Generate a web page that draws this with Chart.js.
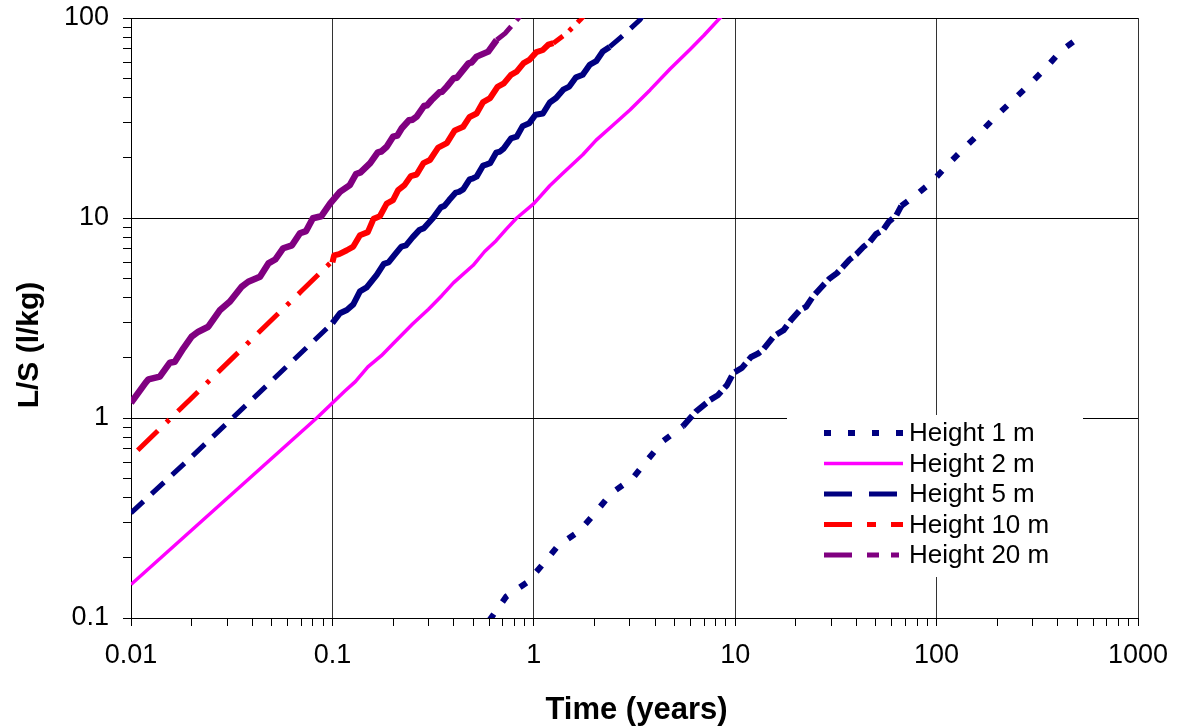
<!DOCTYPE html>
<html>
<head>
<meta charset="utf-8">
<script src="https://cdn.jsdelivr.net/npm/chart.js@4/dist/chart.umd.min.js"></script>
<style>
  html, body { margin: 0; padding: 0; background: #fff; }
  #wrap { width: 1178px; height: 726px; position: relative; }
</style>
</head>
<body>
<div id="wrap"><canvas id="chart-ls"></canvas></div>
<script>
// axis ticks (log decades)
const xMajors = [0.01, 0.1, 1, 10, 100, 1000];
const xTickLabels = ["0.01", "0.1", "1", "10", "100", "1000"];
const yMajors = [0.1, 1, 10, 100];
const yTickLabels = ["0.1", "1", "10", "100"];

const seriesLabels = ["Height 1 m", "Height 2 m", "Height 5 m", "Height 10 m", "Height 20 m"];
const xTitle = "Time (years)";
const yTitle = "L/S (l/kg)";

// [time (years), L/S (l/kg)]
// Height 1 m: sparse start, dense middle, sparse end
const h1Low = [[0.6, 0.097], [0.73, 0.128], [0.93, 0.151], [1.12, 0.188], [1.32, 0.23], [1.69, 0.273],
  [2.04, 0.34], [2.42, 0.42], [3.1, 0.5], [3.68, 0.62], [4.4, 0.77], [5.5, 0.91]];
const h1Mid = [[5.5, 0.91], [6.4, 1.08], [7.5, 1.23], [8.2, 1.3], [9.1, 1.46], [9.8, 1.68], [10.8, 1.78],
  [12.0, 2.02], [13.0, 2.1], [13.7, 2.19], [15.6, 2.57], [17.4, 2.75], [19.0, 3.1], [21.0, 3.47],
  [22.5, 3.6], [24.3, 4.05], [27.0, 4.55], [29.4, 4.98], [32.0, 5.3], [34.3, 5.7], [37.0, 6.2],
  [40.0, 6.6], [43.5, 7.2], [46.6, 7.6], [50.0, 8.3], [54.2, 8.7], [58.0, 9.6], [61.0, 10.0],
  [63.0, 10.3], [66.8, 11.5]];
const h1High = [[66.8, 11.5], [78.7, 13.0], [95, 15.2], [115, 18.7], [139, 22.7], [165, 26.8],
  [198, 32.4], [240, 38.9], [290, 46.7], [350, 56.6], [415, 68.6], [515, 80.4], [540, 83.5]];

// Height 2 m
const h2Line = [[0.01, 0.147], [0.0836, 1.0], [0.1, 1.19], [0.115, 1.36], [0.13, 1.52], [0.15, 1.8],
  [0.175, 2.05], [0.2, 2.35], [0.25, 2.95], [0.3, 3.5], [0.35, 4.1], [0.4, 4.75], [0.5, 5.8],
  [0.57, 6.8], [0.65, 7.7], [0.73, 8.8], [0.82, 9.97], [1.0, 11.8], [1.2, 14.5], [1.39, 16.7],
  [1.75, 20.7], [2.04, 24.5], [2.47, 29.1], [3.0, 34.7], [3.78, 43.7], [4.76, 55.7], [6.0, 70],
  [7.0, 82], [8.4, 100], [8.6, 102]];

// Height 5 m
const h5Head = [[0.01, 0.335], [0.02, 0.64], [0.04, 1.24], [0.07, 2.12], [0.1, 2.98]];
const h5Body = [[0.1, 2.98], [0.103, 3.1], [0.109, 3.34], [0.118, 3.47], [0.127, 3.7], [0.137, 4.3],
  [0.148, 4.5], [0.166, 5.2], [0.18, 5.9], [0.19, 6.0], [0.205, 6.6], [0.22, 7.2], [0.232, 7.3],
  [0.25, 8.0], [0.27, 8.7], [0.285, 8.9], [0.316, 10.0], [0.345, 11.3], [0.36, 11.5], [0.38, 12.3],
  [0.41, 13.4], [0.425, 13.5], [0.446, 13.9], [0.48, 15.6], [0.5, 15.8], [0.52, 16.1], [0.56, 18.3],
  [0.58, 18.5], [0.607, 18.8], [0.65, 21.2], [0.68, 21.5], [0.71, 22.3], [0.77, 25.0], [0.822, 25.5],
  [0.88, 28.8], [0.95, 29.8], [1.02, 32.8], [1.11, 33.3], [1.2, 37.8], [1.29, 39.8], [1.4, 43.8],
  [1.5, 45.4], [1.62, 50.5], [1.75, 52], [1.9, 58.5], [2.04, 60.8], [2.2, 68], [2.38, 71.7]];
const h5Tail = [[2.38, 71.7], [2.78, 82], [3.37, 98], [3.45, 102]];

// Height 10 m
const h10Head = [[0.0108, 0.69], [0.02, 1.26], [0.04, 2.49], [0.07, 4.3], [0.1, 6.1]];
const h10Body = [[0.1, 6.0], [0.102, 6.5], [0.108, 6.6], [0.118, 6.9], [0.127, 7.2], [0.137, 8.2],
  [0.15, 8.5], [0.16, 9.9], [0.172, 10.2], [0.186, 11.8], [0.2, 12.3], [0.212, 13.8], [0.228, 14.6],
  [0.245, 16.2], [0.262, 16.5], [0.283, 18.8], [0.305, 19.5], [0.335, 22.5], [0.37, 23.7],
  [0.405, 27.4], [0.446, 28.6], [0.48, 32.0], [0.52, 33.3], [0.56, 38.0], [0.607, 39.8], [0.66, 45.2],
  [0.71, 47.1], [0.77, 52.0], [0.822, 53.9], [0.89, 59.5], [0.95, 61.7], [1.03, 67.5], [1.11, 69.2],
  [1.18, 73.5], [1.25, 74.8]];
const h10Tail = [[1.25, 74.8], [1.46, 84], [1.7, 98], [1.78, 103]];

// Height 20 m
const h20Body = [[0.01, 1.19], [0.011, 1.36], [0.0118, 1.5], [0.0122, 1.56], [0.0139, 1.61],
  [0.0156, 1.89], [0.0165, 1.91], [0.0182, 2.23], [0.02, 2.55], [0.0216, 2.7], [0.0242, 2.86],
  [0.0277, 3.47], [0.031, 3.82], [0.0355, 4.54], [0.0382, 4.8], [0.0437, 5.09], [0.0481, 5.93],
  [0.052, 6.2], [0.057, 7.06], [0.063, 7.3], [0.069, 8.39], [0.074, 8.6], [0.08, 9.97], [0.088, 10.2],
  [0.0973, 11.8], [0.109, 13.5], [0.122, 14.6], [0.131, 16.6], [0.138, 16.9], [0.154, 18.8],
  [0.168, 21.3], [0.175, 21.5], [0.186, 22.7], [0.2, 25.5], [0.21, 25.8], [0.221, 28.1], [0.24, 30.8],
  [0.25, 31.0], [0.262, 32.1], [0.285, 36.3], [0.295, 36.6], [0.311, 38.9], [0.34, 42.5], [0.35, 42.7],
  [0.37, 45.4], [0.4, 50.0], [0.415, 50.3], [0.439, 53.9], [0.475, 59.5], [0.49, 59.8], [0.52, 64.1],
  [0.594, 67.9], [0.654, 77.6]];
const h20Tail = [[0.654, 77.6], [0.72, 83.8], [0.822, 97.7], [0.86, 103]];

const NAVY = "#000080";
const MAGENTA = "#FF00FF";
const RED = "#FF0000";
const PURPLE = "#800080";
const FONT = "'Liberation Sans', Arial, sans-serif";

const toXY = (pts) => pts.map(([x, y]) => ({ x, y }));

function logTicks(majors) {
  const out = [];
  majors.forEach((m, i) => {
    if (i === majors.length - 1) { out.push({ value: m }); return; }
    for (let k = 1; k <= 9; k++) out.push({ value: +(k * m).toPrecision(6) });
  });
  return out;
}
const isMajor = (majors, v) => majors.some((m) => Math.abs(v - m) / m < 1e-6);

// drop the label overhang so the plot box sits where the reference has it
function noOverhang(scale) {
  scale.paddingTop = 0;
  scale.paddingBottom = 0;
  scale.paddingLeft = 0;
  scale.paddingRight = 0;
}

function seg(group, data, color, width, dash, extra) {
  return Object.assign({
    group,
    label: seriesLabels[group],
    data: toXY(data),
    borderColor: color,
    backgroundColor: color,
    borderWidth: width,
    borderDash: dash,
    pointRadius: 0,
    pointHoverRadius: 0,
    fill: false,
    tension: 0,
    clip: 0,
    borderCapStyle: "butt",
    borderJoinStyle: "round",
  }, extra || {});
}

const datasets = [
  seg(0, h1Low, NAVY, 6, [8, 15], { legend: { width: 6, dash: [7, 17] } }),
  seg(0, h1Mid, NAVY, 6, [14, 5]),
  seg(0, h1High, NAVY, 6, [8, 15]),
  seg(1, h2Line, MAGENTA, 3.5, [], { legend: { width: 3.5, dash: [] } }),
  seg(2, h5Head, NAVY, 5, [17, 11], { legend: { width: 5, dash: [28, 17] } }),
  seg(2, h5Body, NAVY, 6, []),
  seg(2, h5Tail, NAVY, 5, [17, 11]),
  seg(3, h10Head, RED, 5, [28, 12, 4, 12], { legend: { width: 5, dash: [28, 15, 9, 15] } }),
  seg(3, h10Body, RED, 6, []),
  seg(3, h10Tail, RED, 5, [12, 8, 4, 8]),
  seg(4, h20Body, PURPLE, 6.5, [], { legend: { width: 5, dash: [28, 15, 12, 12, 8, 12] } }),
  seg(4, h20Tail, PURPLE, 5, [20, 8, 6, 8]),
];

// legend box inside the plot + axis titles
const decorPlugin = {
  id: "decor",
  afterDraw(chart) {
    const { ctx, chartArea } = chart;
    ctx.save();
    // legend
    const bx = chartArea.right - 351, by = chartArea.bottom - 203;
    ctx.fillStyle = "#fff";
    ctx.fillRect(bx, by, 296, 162);
    const rows = chart.data.datasets.filter((d) => d.legend);
    rows.forEach((d, i) => {
      const y = by + 18 + i * 30.5;
      ctx.beginPath();
      ctx.strokeStyle = d.borderColor;
      ctx.lineWidth = d.legend.width;
      ctx.setLineDash(d.legend.dash);
      ctx.lineCap = "butt";
      ctx.moveTo(bx + 37, y);
      ctx.lineTo(bx + 116, y);
      ctx.stroke();
      ctx.setLineDash([]);
      ctx.fillStyle = "#000";
      ctx.font = "26px " + FONT;
      ctx.textAlign = "left";
      ctx.textBaseline = "middle";
      ctx.fillText(d.label, bx + 122, y + 1);
    });
    // axis titles
    ctx.fillStyle = "#000";
    ctx.textAlign = "center";
    ctx.textBaseline = "middle";
    ctx.font = "bold 31px " + FONT;
    ctx.fillText(xTitle, (chartArea.left + chartArea.right) / 2 + 2, 710);
    ctx.font = "bold 30px " + FONT;
    ctx.translate(30, 345);
    ctx.rotate(-Math.PI / 2);
    ctx.fillText(yTitle, 0, 0);
    ctx.restore();
  },
};

new Chart(document.getElementById("chart-ls"), {
  type: "line",
  data: { datasets },
  plugins: [decorPlugin],
  options: {
    responsive: true,
    maintainAspectRatio: false,
    animation: false,
    events: [],
    layout: { padding: { top: 18, right: 40, left: 0, bottom: 0 } },
    plugins: { legend: { display: false }, tooltip: { enabled: false } },
    scales: {
      x: {
        type: "logarithmic",
        min: 0.01,
        max: 1000,
        afterBuildTicks: (scale) => { scale.ticks = logTicks(xMajors); },
        afterFit: (scale) => { scale.height = 108; noOverhang(scale); },
        ticks: {
          autoSkip: false,
          maxRotation: 0,
          padding: 13,
          color: "#000",
          font: { family: FONT, size: 27 },
          callback: (v) => {
            const i = xMajors.findIndex((m) => Math.abs(v - m) / m < 1e-6);
            return i >= 0 ? xTickLabels[i] : "";
          },
        },
        grid: {
          color: (c) => (c.tick && isMajor(xMajors, c.tick.value) ? "#333" : "rgba(0,0,0,0)"),
          tickColor: "#000",
          tickLength: 8,
        },
        border: { color: "#000", width: 1 },
      },
      y: {
        type: "logarithmic",
        min: 0.1,
        max: 100,
        afterBuildTicks: (scale) => { scale.ticks = logTicks(yMajors); },
        afterFit: (scale) => { scale.width = 131; noOverhang(scale); },
        ticks: {
          autoSkip: false,
          padding: 14,
          color: "#000",
          font: { family: FONT, size: 27 },
          callback: (v) => {
            const i = yMajors.findIndex((m) => Math.abs(v - m) / m < 1e-6);
            return i >= 0 ? yTickLabels[i] : "";
          },
        },
        grid: {
          color: (c) => (c.tick && isMajor(yMajors, c.tick.value) ? "#000" : "rgba(0,0,0,0)"),
          tickColor: "#000",
          tickLength: 8,
        },
        border: { color: "#000", width: 1 },
      },
    },
  },
});
</script>
</body>
</html>
